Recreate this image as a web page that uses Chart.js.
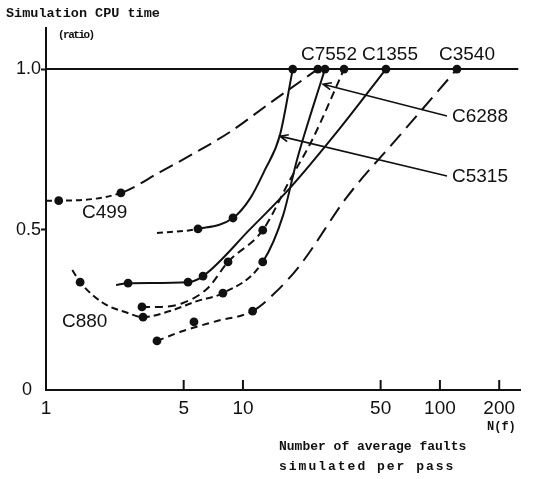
<!DOCTYPE html>
<html>
<head>
<meta charset="utf-8">
<script src="https://cdn.jsdelivr.net/npm/chart.js@4.4.1/dist/chart.umd.min.js"></script>
<style>
  html, body { margin: 0; padding: 0; background: #fff; }
</style>
</head>
<body>
<canvas id="cpu-chart" width="536" height="479"></canvas>
<script>
// values: [N(f), simulation CPU time ratio]
const xTicks = [1, 5, 10, 50, 100, 200];
const yTicks = [0, 0.5, 1.0];
const unityLine = [[1, 1.0], [250, 1.0]];

const c499Path = [[1.0, 0.59], [1.16, 0.59], [2.40, 0.614], [3.79, 0.679], [6.05, 0.748], [8.59, 0.804], [13.7, 0.894], [24.0, 1.0]];
const c499Dots = [[1.16, 0.59], [2.40, 0.614], [24.0, 1.0]];

const c5315Path = [[3.66, 0.489], [5.91, 0.502], [8.90, 0.536], [10.9, 0.598], [12.9, 0.685], [15.4, 0.794], [17.9, 1.0]];
const c5315Dots = [[5.91, 0.502], [8.90, 0.536], [17.9, 1.0]];

const c1355Path = [[2.27, 0.327], [2.61, 0.333], [5.26, 0.336], [6.27, 0.355], [10.9, 0.502], [17.3, 0.629], [31.1, 0.816], [53.2, 1.0]];
const c1355Dots = [[2.61, 0.333], [5.26, 0.336], [6.27, 0.355], [53.2, 1.0]];

const c880Path = [[1.36, 0.374], [1.49, 0.336], [1.95, 0.271], [2.52, 0.243], [3.11, 0.227], [4.26, 0.246], [5.84, 0.277], [7.91, 0.302], [12.6, 0.399], [16.0, 0.545], [18.8, 0.717], [22.4, 0.872], [26.1, 1.0]];
const c880Dots = [[1.49, 0.336], [3.11, 0.227], [7.91, 0.302], [12.6, 0.399], [26.1, 1.0]];

const c7552Path = [[3.07, 0.259], [3.88, 0.259], [4.96, 0.271], [6.64, 0.318], [8.40, 0.399], [12.6, 0.498], [17.3, 0.654], [22.7, 0.785], [32.6, 1.0]];
const c7552Dots = [[3.07, 0.259], [8.40, 0.399], [12.6, 0.498], [32.6, 1.0]];

const c3540Path = [[3.66, 0.153], [4.96, 0.184], [7.38, 0.215], [11.2, 0.246], [14.5, 0.302], [19.5, 0.389], [33.7, 0.601], [62.7, 0.794], [122, 1.0]];
const c3540Dots = [[3.66, 0.153], [5.64, 0.212], [11.2, 0.246], [122, 1.0]];

const toXY = pts => pts.map(([x, y]) => ({ x, y }));
const ink = '#111';

function curve(pts, dashFn) {
  return {
    data: toXY(pts),
    borderColor: ink,
    borderWidth: 2,
    borderDash: [],
    pointRadius: 0,
    cubicInterpolationMode: 'monotone',
    segment: dashFn ? { borderDash: dashFn } : undefined
  };
}

const allDots = [].concat(c499Dots, c5315Dots, c1355Dots, c880Dots, c7552Dots, c3540Dots);

// labels, arrows and inward tick marks
const annotate = {
  id: 'annotate',
  afterDraw(chart) {
    const { ctx, scales: { x, y } } = chart;
    ctx.save();
    ctx.strokeStyle = ink;
    ctx.fillStyle = ink;
    ctx.lineWidth = 2;

    xTicks.slice(1).forEach(v => {
      const px = x.getPixelForValue(v);
      ctx.beginPath();
      ctx.moveTo(px, y.bottom);
      ctx.lineTo(px, y.bottom - 10);
      ctx.stroke();
    });

    ctx.textBaseline = 'middle';
    ctx.font = 'bold 13.5px "Liberation Mono"';
    ctx.fillText('Simulation CPU time', 6, 14);
    ctx.font = 'bold 11px "Liberation Mono"';
    ctx.letterSpacing = '-1.5px';
    ctx.fillText('(ratio)', 58, 35);
    ctx.letterSpacing = '0px';
    ctx.font = 'bold 12px "Liberation Mono"';
    ctx.fillText('N(f)', 487, 427);
    ctx.font = 'bold 13px "Liberation Mono"';
    ctx.fillText('Number of average faults', 279, 447);
    ctx.letterSpacing = '2px';
    ctx.fillText('simulated per pass', 279, 467);
    ctx.letterSpacing = '0px';

    ctx.font = '19px "Liberation Sans"';
    ctx.textAlign = 'center';
    ctx.fillText('C7552', 329, 55);
    ctx.fillText('C1355', 390, 55);
    ctx.fillText('C3540', 467, 55);
    ctx.textAlign = 'left';
    ctx.fillText('C6288', 452, 117);
    ctx.fillText('C5315', 452, 177);
    ctx.fillText('C499', 82, 213);
    ctx.fillText('C880', 62, 322);

    const arrow = (fx, fy, n, r) => {
      const tx = x.getPixelForValue(n), ty = y.getPixelForValue(r);
      const a = Math.atan2(ty - fy, tx - fx);
      ctx.lineWidth = 1.6;
      ctx.beginPath();
      ctx.moveTo(fx, fy);
      ctx.lineTo(tx, ty);
      ctx.moveTo(tx - 9 * Math.cos(a - 0.4), ty - 9 * Math.sin(a - 0.4));
      ctx.lineTo(tx, ty);
      ctx.lineTo(tx - 9 * Math.cos(a + 0.4), ty - 9 * Math.sin(a + 0.4));
      ctx.stroke();
    };
    arrow(447, 116, 25.5, 0.953);
    arrow(447, 176, 15.4, 0.791);
    ctx.restore();
  }
};

new Chart(document.getElementById('cpu-chart'), {
  type: 'line',
  data: {
    datasets: [
      curve(unityLine),
      curve(c499Path, c => c.p0DataIndex < 2 ? [6, 4] : [15, 7]),
      curve(c5315Path, c => c.p0DataIndex < 1 ? [6, 4] : []),
      curve(c1355Path),
      curve(c880Path, c => c.p0DataIndex < 8 ? [7, 4] : []),
      curve(c7552Path, () => [8, 5]),
      curve(c3540Path, c => c.p0DataIndex < 3 ? [7, 5] : [16, 8]),
      {
        data: toXY(allDots),
        showLine: false,
        pointRadius: 4.4,
        pointBackgroundColor: ink,
        pointBorderWidth: 0
      }
    ]
  },
  options: {
    responsive: false,
    animation: false,
    devicePixelRatio: 1,
    layout: { padding: { top: 28, right: 16, left: 0, bottom: 0 } },
    plugins: { legend: { display: false }, tooltip: { enabled: false } },
    scales: {
      x: {
        type: 'logarithmic',
        min: 1,
        max: 255,
        afterBuildTicks: s => { s.ticks = xTicks.map(v => ({ value: v })); },
        afterFit: s => { s.height = 89; },
        grid: { drawOnChartArea: false, drawTicks: false },
        border: { display: true, color: ink, width: 2 },
        ticks: {
          callback: v => String(v),
          color: ink,
          padding: 7,
          autoSkip: false,
          maxRotation: 0,
          font: { family: '"Liberation Sans"', size: 19 }
        }
      },
      y: {
        min: 0,
        max: 1.128,
        afterBuildTicks: s => { s.ticks = yTicks.map(v => ({ value: v })); },
        afterFit: s => { s.width = 46; },
        grid: {
          drawOnChartArea: false,
          drawTicks: true,
          tickLength: 5,
          tickWidth: 2,
          tickColor: c => (c.tick && c.tick.value === 0) ? 'rgba(0,0,0,0)' : ink
        },
        border: { display: true, color: ink, width: 2 },
        ticks: {
          callback: v => v === 0 ? '0\u2002' : v.toFixed(1),
          color: ink,
          padding: 0,
          font: { family: '"Liberation Sans"', size: 18 }
        }
      }
    }
  },
  plugins: [annotate]
});
</script>
</body>
</html>
